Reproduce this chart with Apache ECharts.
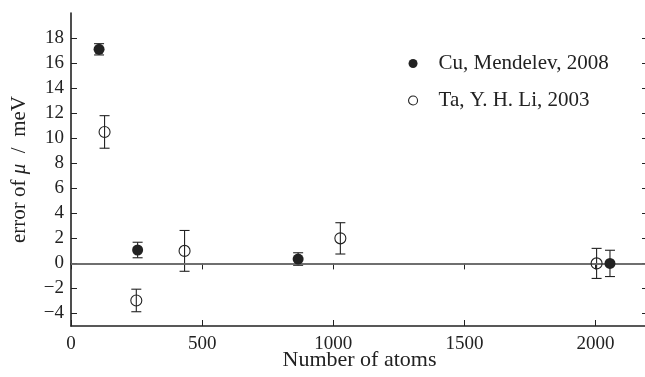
<!DOCTYPE html>
<html><head><meta charset="utf-8">
<script src="https://cdn.jsdelivr.net/npm/echarts@6/dist/echarts.min.js"></script>
<style>html,body{margin:0;padding:0;background:#fff}#c{width:645px;height:377px}</style>
</head><body><div id="c"></div>
<script>
// Data
var cuX = [107, 254, 866, 2055];
var cuY = [17.1, 1.07, 0.35, 0.0];
var cuErr = [0.45, 0.62, 0.5, 1.05];
var taX = [128, 249, 433, 1027, 2004];
var taY = [10.5, -2.96, 1.0, 2.0, 0.0];
var taErr = [1.3, 0.9, 1.63, 1.25, 1.2];
var xTicks = [0, 500, 1000, 1500, 2000];
var yTicks = [-4, -2, 0, 2, 4, 6, 8, 10, 12, 14, 16, 18];
var cuName = 'Cu, Mendelev, 2008';
var taName = 'Ta, Y. H. Li, 2003';

var FONT = "'Liberation Serif', 'Times New Roman', serif";
var INK = '#222';

function pts(xs, ys) { return xs.map(function (x, i) { return [x, ys[i]]; }); }
function errs(xs, ys, es) { return xs.map(function (x, i) { return [x, ys[i] - es[i], ys[i] + es[i]]; }); }

function errRender(params, api) {
  var x = api.value(0), lo = api.value(1), hi = api.value(2);
  var a = api.coord([x, hi]), b = api.coord([x, lo]);
  var w = 5;
  var st = { stroke: INK, lineWidth: 1.1 };
  return {
    type: 'group',
    children: [
      { type: 'line', shape: { x1: a[0], y1: a[1], x2: b[0], y2: b[1] }, style: st },
      { type: 'line', shape: { x1: a[0] - w, y1: a[1], x2: a[0] + w, y2: a[1] }, style: st },
      { type: 'line', shape: { x1: b[0] - w, y1: b[1], x2: b[0] + w, y2: b[1] }, style: st }
    ]
  };
}

var axisLineStyle = { color: INK, width: 1.6 };
var chart = echarts.init(document.getElementById('c'), null, { renderer: 'canvas' });
chart.setOption({
  animation: false,
  backgroundColor: '#fff',
  grid: { left: 71, top: 13, right: -3, bottom: 51, containLabel: false, outerBoundsMode: 'none' },
  legend: {
    orient: 'vertical', left: 403, top: 48, itemWidth: 9, itemHeight: 9, itemGap: 16,
    textStyle: { fontFamily: FONT, fontSize: 21, color: INK, padding: [0, 0, 0, 16] },
    data: [
      { name: cuName, icon: 'circle', itemStyle: { color: INK, borderWidth: 0 } },
      { name: taName, icon: 'circle', itemStyle: { color: 'rgba(0,0,0,0)', borderColor: INK, borderWidth: 1.1 } }
    ]
  },
  xAxis: [{
    type: 'value', min: 0, max: 2200, interval: 500,
    name: 'Number of atoms', nameLocation: 'middle', nameGap: 23, nameMoveOverlap: false,
    nameTextStyle: { fontFamily: FONT, fontSize: 22, color: INK },
    axisLine: { show: true, onZero: false, lineStyle: axisLineStyle },
    axisTick: { show: true, inside: true, length: 6, lineStyle: { color: INK, width: 1 }, customValues: xTicks },
    axisLabel: { fontFamily: FONT, fontSize: 19, color: INK, margin: 9, customValues: xTicks,
      formatter: function (v) { return String(v); } },
    splitLine: { show: false }
  }, {
    type: 'value', min: 0, max: 2200, position: 'top',
    axisLine: { show: true, lineStyle: axisLineStyle },
    axisTick: { show: true, inside: true, length: 6, lineStyle: { color: INK, width: 1 }, customValues: xTicks },
    axisLabel: { show: false },
    splitLine: { show: false }
  }],
  yAxis: [{
    type: 'value', min: -5, max: 20,
    name: 'error of {i|\u03bc}  /  meV', nameLocation: 'middle', nameGap: 41, nameRotate: 90, nameMoveOverlap: false,
    nameTextStyle: { fontFamily: FONT, fontSize: 21, color: INK,
      rich: { i: { fontFamily: FONT, fontStyle: 'italic', fontSize: 21, color: INK } } },
    axisLine: { show: true, onZero: false, lineStyle: axisLineStyle },
    axisTick: { show: true, inside: true, length: 6, lineStyle: { color: INK, width: 1 }, customValues: yTicks },
    axisLabel: { fontFamily: FONT, fontSize: 19, color: INK, margin: 7, customValues: yTicks,
      formatter: function (v) { return v < 0 ? '\u2212' + Math.abs(v) : String(v); } },
    splitLine: { show: false }
  }, {
    type: 'value', min: -5, max: 20, position: 'right',
    axisLine: { show: true, onZero: false, lineStyle: axisLineStyle },
    axisTick: { show: true, inside: true, length: 6, lineStyle: { color: INK, width: 1 }, customValues: yTicks },
    axisLabel: { show: false },
    splitLine: { show: false }
  }],
  series: [
    {
      name: 'zero', type: 'line', data: [], silent: true,
      markLine: { silent: true, symbol: 'none', label: { show: false },
        lineStyle: { color: '#777', width: 1.5, type: 'solid' },
        data: [{ yAxis: 0 }] }
    },
    { name: 'cuErr', type: 'custom', renderItem: errRender, data: errs(cuX, cuY, cuErr), z: 3, silent: true },
    { name: 'taErr', type: 'custom', renderItem: errRender, data: errs(taX, taY, taErr), z: 3, silent: true },
    { name: cuName, type: 'scatter', symbol: 'circle', symbolSize: 11, data: pts(cuX, cuY), z: 5,
      itemStyle: { color: INK, opacity: 1 } },
    { name: taName, type: 'scatter', symbol: 'circle', symbolSize: 11, data: pts(taX, taY), z: 5,
      itemStyle: { color: 'rgba(0,0,0,0)', borderColor: INK, borderWidth: 1.1, opacity: 1 } }
  ]
});
</script></body></html>
